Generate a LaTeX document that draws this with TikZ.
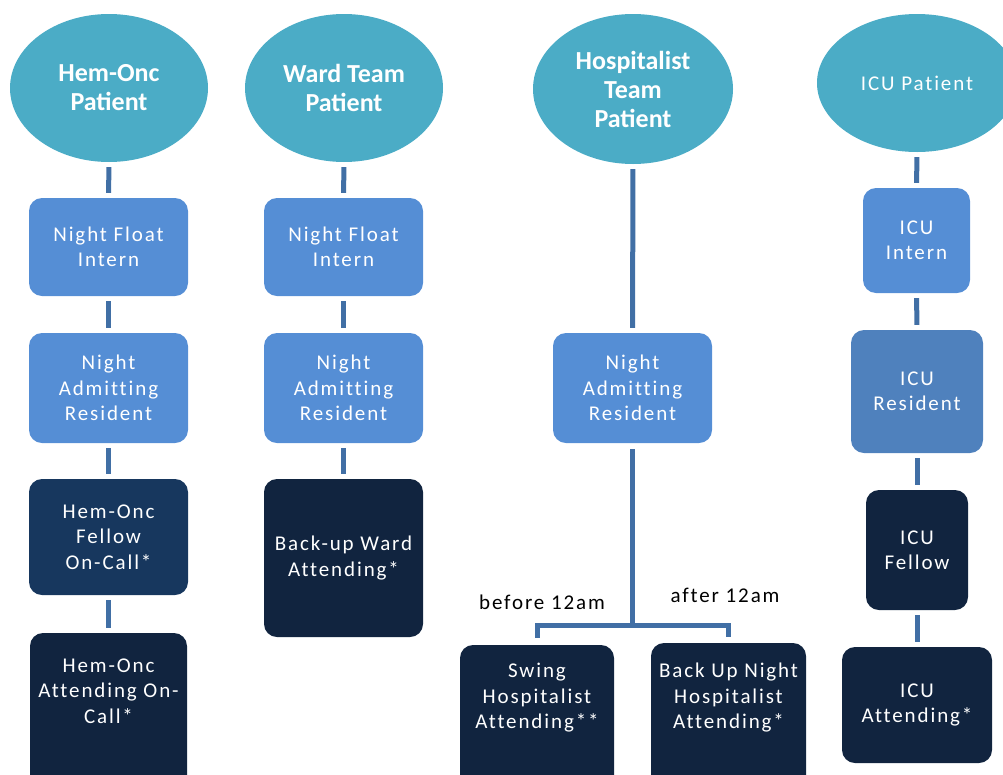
\documentclass[tikz,border=0pt]{standalone}
\usepackage{fontspec}
\setmainfont{Carlito}
\newfontfamily\boxfont[LetterSpace=9,Ligatures={NoCommon}]{Carlito}
\usetikzlibrary{shapes.geometric}
\definecolor{ellc}{HTML}{4BACC6}
\definecolor{lightc}{HTML}{558ED5}
\definecolor{midc}{HTML}{4F81BD}
\definecolor{fellc}{HTML}{17375E}
\definecolor{darkc}{HTML}{11243F}
\definecolor{connc}{HTML}{416FA5}
\tikzset{
  pat/.style={ellipse, fill=ellc, draw=none, text=white, align=center, inner sep=0pt,
    font=\fontsize{26}{29}\selectfont\bfseries},
  patn/.style={ellipse, fill=ellc, draw=none, text=white, align=center, inner sep=0pt,
    font=\fontsize{21}{25.5}\selectfont\boxfont},
  bx/.style={rectangle, rounded corners=13pt, draw=none, text=white, align=center, inner sep=0pt,
    font=\fontsize{21}{25.5}\selectfont\boxfont},
  lightbox/.style={bx, fill=lightc},
  midbox/.style={bx, fill=midc},
  fellbox/.style={bx, fill=fellc},
  darkbox/.style={bx, fill=darkc},
  txt/.style={text=white, align=center, inner sep=0pt, font=\fontsize{21}{25.5}\selectfont\boxfont},
  lbl/.style={text=black, inner sep=0pt, font=\fontsize{21}{25.5}\selectfont\boxfont},
  conn/.style={draw=connc, line width=5pt, shorten <=5pt, shorten >=5pt},
  conn2/.style={draw=connc, line width=5pt}
}
\begin{document}
\begin{tikzpicture}[x=1pt,y=-1pt]
\useasboundingbox (0,0) rectangle (1003,774);
% Hem-Onc column
\node[pat, minimum width=198pt, minimum height=148pt] (e1) at (109,88) {Hem-Onc\\Patient};
\node[lightbox, minimum width=159pt, minimum height=98pt] (hnfi) at (108.5,247) {Night Float\\Intern};
\node[lightbox, minimum width=159pt, minimum height=110pt] (hnar) at (108.5,388) {Night\\Admitting\\Resident};
\node[fellbox, minimum width=159pt, minimum height=116pt] (hfel) at (108.5,537) {Hem-Onc\\Fellow\\On-Call*};
\node[darkbox, minimum width=157pt, minimum height=167pt] (hatt) at (108.5,716.5) {};
\node[txt] (hattt) at (108.5,691) {Hem-Onc\\Attending On-\\Call*};
\draw[conn] (e1.south) -- (hnfi.north);
\draw[conn] (hnfi.south) -- (hnar.north);
\draw[conn] (hnar.south) -- (hfel.north);
\draw[conn] (hfel.south) -- (hatt.north);
% Ward column
\node[pat, minimum width=198pt, minimum height=148pt] (e2) at (344,88) {Ward Team\\Patient};
\node[lightbox, minimum width=159pt, minimum height=98pt] (wnfi) at (343.5,247) {Night Float\\Intern};
\node[lightbox, minimum width=159pt, minimum height=110pt] (wnar) at (343.5,388) {Night\\Admitting\\Resident};
\node[darkbox, minimum width=159pt, minimum height=158pt] (watt) at (343.5,558) {Back-up Ward\\Attending*};
\draw[conn] (e2.south) -- (wnfi.north);
\draw[conn] (wnfi.south) -- (wnar.north);
\draw[conn] (wnar.south) -- (watt.north);
% Hospitalist column
\node[pat, minimum width=200pt, minimum height=150pt] (e3) at (633,89) {Hospitalist\\Team\\Patient};
\node[lightbox, minimum width=159pt, minimum height=110pt] (pnar) at (632.5,388) {Night\\Admitting\\Resident};
\node[darkbox, minimum width=154pt, minimum height=155pt] (swing) at (537,722.5) {};
\node[txt] (swingt) at (537,698) {Swing\\Hospitalist\\Attending**};
\node[darkbox, minimum width=155pt, minimum height=157pt] (backup) at (728.5,721.5) {};
\node[txt] (backupt) at (728.5,698) {Back Up Night\\Hospitalist\\Attending*};
\coordinate (hj) at (632.5,625);
\draw[conn] (e3.south) -- (pnar.north);
\draw[conn2] ([yshift=-6pt]pnar.south) -- ([yshift=-2.5pt]hj);
\draw[conn2, line join=miter] ([yshift=7pt]swing.north) |- (hj) -| ([yshift=6pt]backup.north);
\node[lbl] (before) at (542,602) {before 12am};
\node[lbl] (after) at (725,595) {after 12am};
% ICU column
\node[patn, minimum width=200pt, minimum height=138pt] (e4) at (917,83) {ICU Patient};
\node[lightbox, minimum width=107pt, minimum height=105pt] (inte) at (916.5,240.5) {ICU\\Intern};
\node[midbox, minimum width=132pt, minimum height=123pt] (ires) at (917,391.5) {ICU\\Resident};
\node[darkbox, minimum width=102pt, minimum height=120pt] (ifel) at (917,550) {ICU\\Fellow};
\node[darkbox, minimum width=150pt, minimum height=116pt] (iatt) at (917,705) {ICU\\Attending*};
\draw[conn] (e4.south) -- (inte.north);
\draw[conn] (inte.south) -- (ires.north);
\draw[conn] (ires.south) -- (ifel.north);
\draw[conn] (ifel.south) -- (iatt.north);
\end{tikzpicture}
\end{document}
